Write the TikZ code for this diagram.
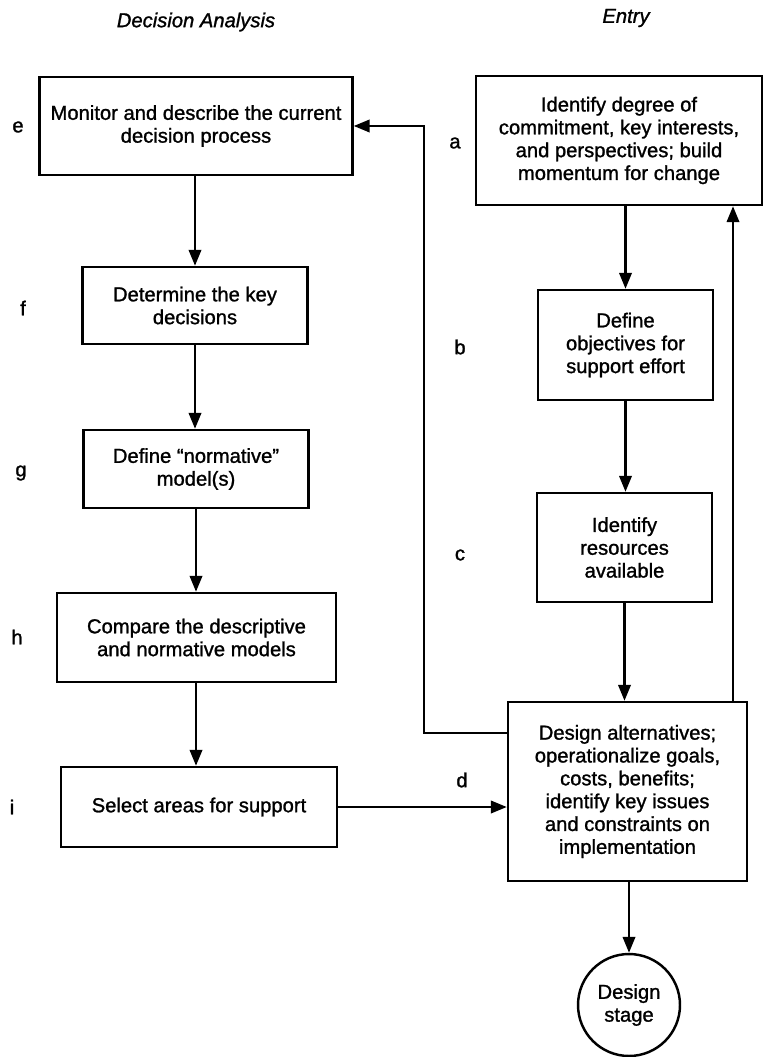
\documentclass[tikz,border=0pt]{standalone}
\usepackage{fontspec}
\setmainfont{Liberation Sans}[FakeBold=1.2]
\usetikzlibrary{arrows.meta,calc,shapes.geometric}

\tikzset{
  stepbox/.style={draw,line width=1.4pt,align=center,inner sep=2pt},
  arr/.style={line width=1.4pt,-{Triangle[length=9pt,width=7pt]}},
  tag/.style={font=\fontsize{11.5}{13}\selectfont},
  head/.style={font=\fontsize{11.5}{13}\selectfont\itshape}
}

\begin{document}
\begin{tikzpicture}[x=0.02cm,y=-0.02cm,font=\fontsize{11.5}{13}\selectfont]
\useasboundingbox (0,0) rectangle (764,1057);
\node[head] (hda) at (196,22) {Decision Analysis};
\node[head] (hen) at (626,18) {Entry};
% left column
\node[stepbox,minimum width=6.26cm,minimum height=1.96cm] (e) at (196,126)
  {Monitor and describe the current\\decision process};
\node[stepbox,minimum width=4.5cm,minimum height=1.54cm] (f) at (195,305.5)
  {Determine the key\\decisions};
\node[stepbox,minimum width=4.5cm,minimum height=1.56cm] (g) at (196,469)
  {Define ``normative''\\model(s)};
\node[stepbox,minimum width=5.58cm,minimum height=1.78cm] (h) at (196.5,637.5)
  {Compare the descriptive\\and normative models};
\node[stepbox,minimum width=5.52cm,minimum height=1.6cm] (i) at (199,807)
  {Select areas for support};
% right column
\node[stepbox,minimum width=5.72cm,minimum height=2.58cm] (a) at (619,140.5)
  {Identify degree of\\commitment, key interests,\\and perspectives; build\\momentum for change};
\node[stepbox,minimum width=3.5cm,minimum height=2.2cm] (b) at (625.5,345)
  {Define\\objectives for\\support effort};
\node[stepbox,minimum width=3.5cm,minimum height=2.18cm] (c) at (624.5,547.5)
  {Identify\\resources\\available};
\node[stepbox,minimum width=4.78cm,minimum height=3.58cm] (d) at (627.5,791.5)
  {Design alternatives;\\operationalize goals,\\costs, benefits;\\identify key issues\\and constraints on\\implementation};
\node[draw,circle,line width=1.4pt,align=center,minimum size=2.04cm,inner sep=0pt] (ds) at (629,1005)
  {Design\\stage};
% letters
\foreach \l/\x/\y in {e/18/127,f/23/308,g/21/473,h/17/637,i/12/807,
                      a/455/143,b/460/347,c/460/555,d/462/780}
  \node[tag] (l\l) at (\x,\y) {\l};
% flow
\draw[arr] (e.south -| f) -- (f.north);
\draw[arr] (f.south) -- (f.south |- g.north);
\draw[arr] (g.south) -- (g.south |- h.north);
\draw[arr] (h.south) -- (h.south -| 196,0) coordinate (hs) -- (hs |- i.north);
\draw[arr] (b.north |- a.south) -- (b.north);
\draw[arr] (b.south) -- (b.south |- c.north);
\draw[arr] (c.south) -- (c.south |- d.north);
\draw[arr] (i.east) -- (i.east -| d.west);
\draw[arr] (ds.north |- d.south) -- (ds.north);
% feedback loops
\coordinate (fbl) at (424,733);
\coordinate (fbr) at (733,702);
\draw[arr] (d.west |- fbl) -- (fbl) |- (e.east);
\draw[arr] (fbr |- d.north) -- (fbr |- a.south);
\end{tikzpicture}
\end{document}
